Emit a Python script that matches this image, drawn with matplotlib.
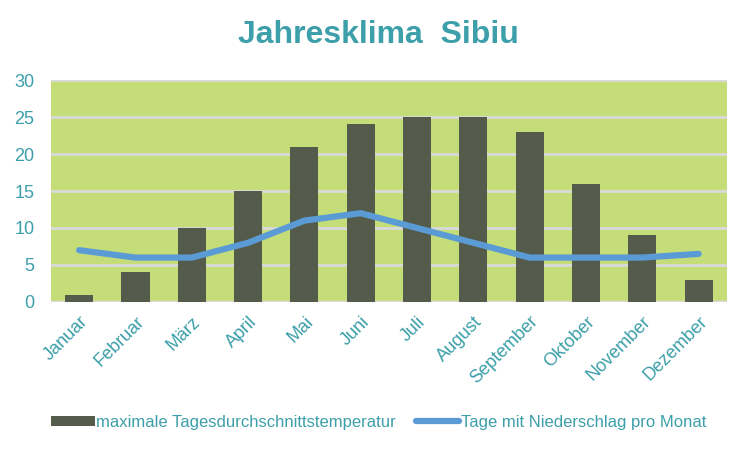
import matplotlib
matplotlib.use("Agg")
import matplotlib.pyplot as plt
import numpy as np

# Daten
monate = ["Januar", "Februar", "März", "April", "Mai", "Juni", "Juli",
          "August", "September", "Oktober", "November", "Dezember"]
temperatur = [1, 4, 10, 15, 21, 24, 25, 25, 23, 16, 9, 3]
niederschlag = [7, 6, 6, 8, 11, 12, 10, 8, 6, 6, 6, 6.5]
y_ticks = [0, 5, 10, 15, 20, 25, 30]

teal = "#3c9fa9"
plt.rcParams["font.family"] = ["Liberation Sans", "DejaVu Sans"]

fig = plt.figure(figsize=(7.5, 4.5), dpi=100)
ax = fig.add_axes([0.068, 0.329, 0.901, 0.493])
ax.set_facecolor("#c5dd79")

x = np.arange(len(monate))
balken = ax.bar(x, temperatur, width=0.5, color="#545b4a", zorder=3,
                label="maximale Tagesdurchschnittstemperatur")
linie, = ax.plot(x, niederschlag, color="#5b9bd5", linewidth=4.5, solid_capstyle="round",
                 zorder=4, label="Tage mit Niederschlag pro Monat")

ax.set_xlim(-0.5, len(monate) - 0.5)
ax.set_ylim(0, 30)
ax.set_yticks(y_ticks)
ax.yaxis.grid(True, color="#d9d9d9", linewidth=2, zorder=1)
ax.set_axisbelow(True)
for s in ax.spines.values():
    s.set_visible(False)
ax.axhline(0, color="#d9d9d9", linewidth=2.5, zorder=2)

ax.set_xticks(x)
ax.set_xticklabels(monate, rotation=45, ha="right", rotation_mode="anchor",
                   fontsize=13, color=teal)
ax.tick_params(axis="both", length=0, labelsize=13, colors=teal)
ax.tick_params(axis="x", pad=8)
ax.tick_params(axis="y", pad=12)

fig.suptitle("Jahresklima  Sibiu", x=0.505, y=0.955, fontsize=23, fontweight="bold",
             color=teal)

leg = fig.legend([balken, linie], [balken.get_label(), linie.get_label()],
                 loc="center", bbox_to_anchor=(0.505, 0.062), ncol=2, frameon=False,
                 fontsize=12, handlelength=2.6, handleheight=0.55, columnspacing=1.2,
                 handletextpad=0.1)
for t in leg.get_texts():
    t.set_color(teal)

fig.savefig("out.png", dpi=100)
